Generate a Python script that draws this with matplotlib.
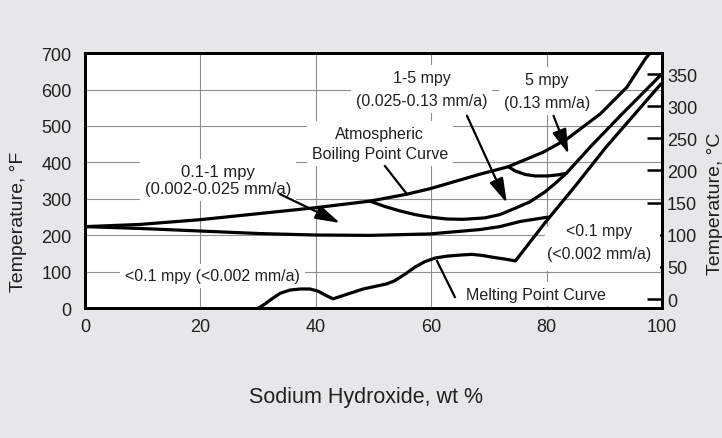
import matplotlib
matplotlib.use('Agg')
import matplotlib.pyplot as plt
from matplotlib.patches import Rectangle

plt.rcParams['font.family'] = ['Liberation Sans', 'DejaVu Sans']

# ---------------- data ----------------
naoh_ticks = [0, 20, 40, 60, 80, 100]
temp_f_ticks = [0, 100, 200, 300, 400, 500, 600, 700]
temp_c_ticks = [0, 50, 100, 150, 200, 250, 300, 350]
c_axis_limits = (-14.5, 382.7)   # °C scale as printed against 0..700 °F

# Atmospheric boiling point curve
boil_wt = [0.0, 9.5, 19.9, 30.3, 40.0, 49.4, 55.8, 59.8, 68.5, 73.3, 79.4,
           83.5, 89.3, 93.9, 97.1, 98.1]
boil_f = [224, 230, 243, 260, 276, 294, 313, 328, 368, 388, 428,
          464, 533, 606, 684, 703]

# Lower boundary (<0.1 mpy / 0.1-1 mpy)
low_wt = [0.0, 9.5, 19.9, 30.3, 40.0, 49.4, 59.8, 68.5, 71.9, 75.4, 80.2]
low_f = [224, 219, 212, 205, 201, 200, 204, 216, 224, 238, 250]

# Melting point curve (with its straight right-hand branch)
melt_wt = [30.0, 31.2, 32.4, 33.8, 35.5, 37.3, 39.0, 40.4, 41.8, 43.0, 45.1,
           48.2, 52.3, 53.6, 55.5, 57.2, 58.9, 60.7, 62.7, 65.0, 67.1, 68.8,
           71.1, 72.8, 74.6, 79.7, 85.1, 90.3, 95.3, 99.8]
melt_f = [0, 12, 26, 41, 50, 53, 53, 47, 35, 26, 37,
          53, 67, 75, 94, 113, 128, 138, 143, 146, 148, 145,
          139, 135, 130, 234, 338, 442, 533, 615]

# 1-5 mpy lower boundary continuing to the upper right
r15_wt = [49.4, 52.0, 54.6, 57.2, 59.8, 62.7, 65.5, 69.3, 71.9, 74.5, 77.1,
          79.7, 81.6, 83.4, 87.9, 92.9, 99.8]
r15_f = [294, 279, 267, 257, 250, 245, 244, 248, 257, 274, 292,
         319, 344, 370, 448, 530, 640]

# 5 mpy boundary
r5_wt = [73.4, 74.5, 76.3, 78.0, 80.2, 82.0, 83.4]
r5_f = [388, 377, 367, 363, 363, 366, 370]

# annotation arrows: (tail, tip)
arrow_011 = ((33.8, 313), (44.2, 234))
arrow_15 = ((66.2, 528), (73.1, 289))
arrow_5 = ((81.2, 528), (83.8, 423))
pointer_boil = ((52.0, 390), (55.8, 313))
pointer_melt = ((61.0, 130), (64.1, 31))

# ---------------- figure ----------------
bg = '#e6e7e8'
txt = '#231f20'
fig = plt.figure(figsize=(7.22, 4.39), dpi=100, facecolor=bg)
ax = fig.add_axes([0.1177, 0.2954, 0.7992, 0.5815])
ax.set_xlim(0, 100)
ax.set_ylim(0, 700)
ax.set_xticks(naoh_ticks)
ax.set_yticks(temp_f_ticks)
ax.set_axisbelow(True)
ax.grid(True, color='#8f8f8f', lw=0.8)
ax.tick_params(axis='both', length=0, labelsize=13, labelcolor=txt)
ax.tick_params(axis='x', pad=7)
ax.tick_params(axis='y', pad=9.6)
for s in ax.spines.values():
    s.set_linewidth(2.0)
    s.set_color('black')

ax.set_xlabel('Sodium Hydroxide, wt %', fontsize=15.5, color=txt)
ax.xaxis.label.set_va('center')
ax.xaxis.set_label_coords(0.4866, -0.3447)
ax.set_ylabel('Temperature, °F', fontsize=14, color=txt)
ax.yaxis.label.set_va('center')
ax.yaxis.set_label_coords(-0.1153, 0.3439)

lw = 2.3
for xs, ys in [(boil_wt, boil_f), (low_wt, low_f), (melt_wt, melt_f),
               (r15_wt, r15_f), (r5_wt, r5_f)]:
    ax.plot(xs, ys, color='black', lw=lw, solid_capstyle='round',
            solid_joinstyle='round', zorder=4)

# arrows
for tail, tip in [arrow_011, arrow_15, arrow_5]:
    ax.annotate('', xy=tip, xytext=tail,
                arrowprops=dict(arrowstyle='-|>,head_length=0.75,head_width=0.22',
                                mutation_scale=20, lw=1.6, color='black',
                                shrinkA=0, shrinkB=0), zorder=5)
for a, b in [pointer_boil, pointer_melt]:
    ax.plot([a[0], b[0]], [a[1], b[1]], color='black', lw=1.6, zorder=5)

box = dict(boxstyle='square,pad=0.3', facecolor='white', edgecolor='none')
fs = 11.5
ax.text(23.1, 352, '0.1-1 mpy\n(0.002-0.025 mm/a)', ha='center', va='center',
        fontsize=12, color=txt, linespacing=1.2, bbox=box, zorder=3)
ax.text(51.1, 452, 'Atmospheric\nBoiling Point Curve', ha='center', va='center',
        fontsize=fs, color=txt, linespacing=1.41, bbox=box, zorder=3)
ax.text(58.3, 601, '1-5 mpy\n(0.025-0.13 mm/a)', ha='center', va='center',
        fontsize=fs, color=txt, linespacing=1.71, bbox=box, zorder=3)
ax.text(80.1, 596, '5 mpy\n(0.13 mm/a)', ha='center', va='center',
        fontsize=fs, color=txt, linespacing=1.71, bbox=box, zorder=3)
ax.text(22.1, 89, '<0.1 mpy (<0.002 mm/a)', ha='center', va='center',
        fontsize=fs, color=txt, bbox=box, zorder=3)
ax.text(78.2, 39, 'Melting Point Curve', ha='center', va='center',
        fontsize=fs, color=txt, bbox=box, zorder=3)

# secondary (°C) axis
ax2 = ax.twinx()
ax2.set_ylim(*c_axis_limits)
ax2.set_yticks(temp_c_ticks)
ax2.set_axisbelow(True)
ax2.tick_params(axis='y', direction='in', length=11, width=1.8, pad=3.5,
                labelsize=13, labelcolor=txt, color='black')
ax2.set_ylabel('Temperature, °C', fontsize=14, color=txt)
ax2.yaxis.label.set_va('center')
ax2.yaxis.set_label_coords(1.0919, 0.4125)
for s in ax2.spines.values():
    s.set_linewidth(2.0)

ax2.add_patch(Rectangle((79.7, 102), 19.9, 121, transform=ax.transData,
                        facecolor='white', edgecolor='none', zorder=1))
ax2.text(89.1, 182, '<0.1 mpy\n(<0.002 mm/a)', transform=ax.transData,
         ha='center', va='center', fontsize=fs, color=txt, linespacing=1.62,
         zorder=3)

fig.savefig('out.png', dpi=100, facecolor=bg)
